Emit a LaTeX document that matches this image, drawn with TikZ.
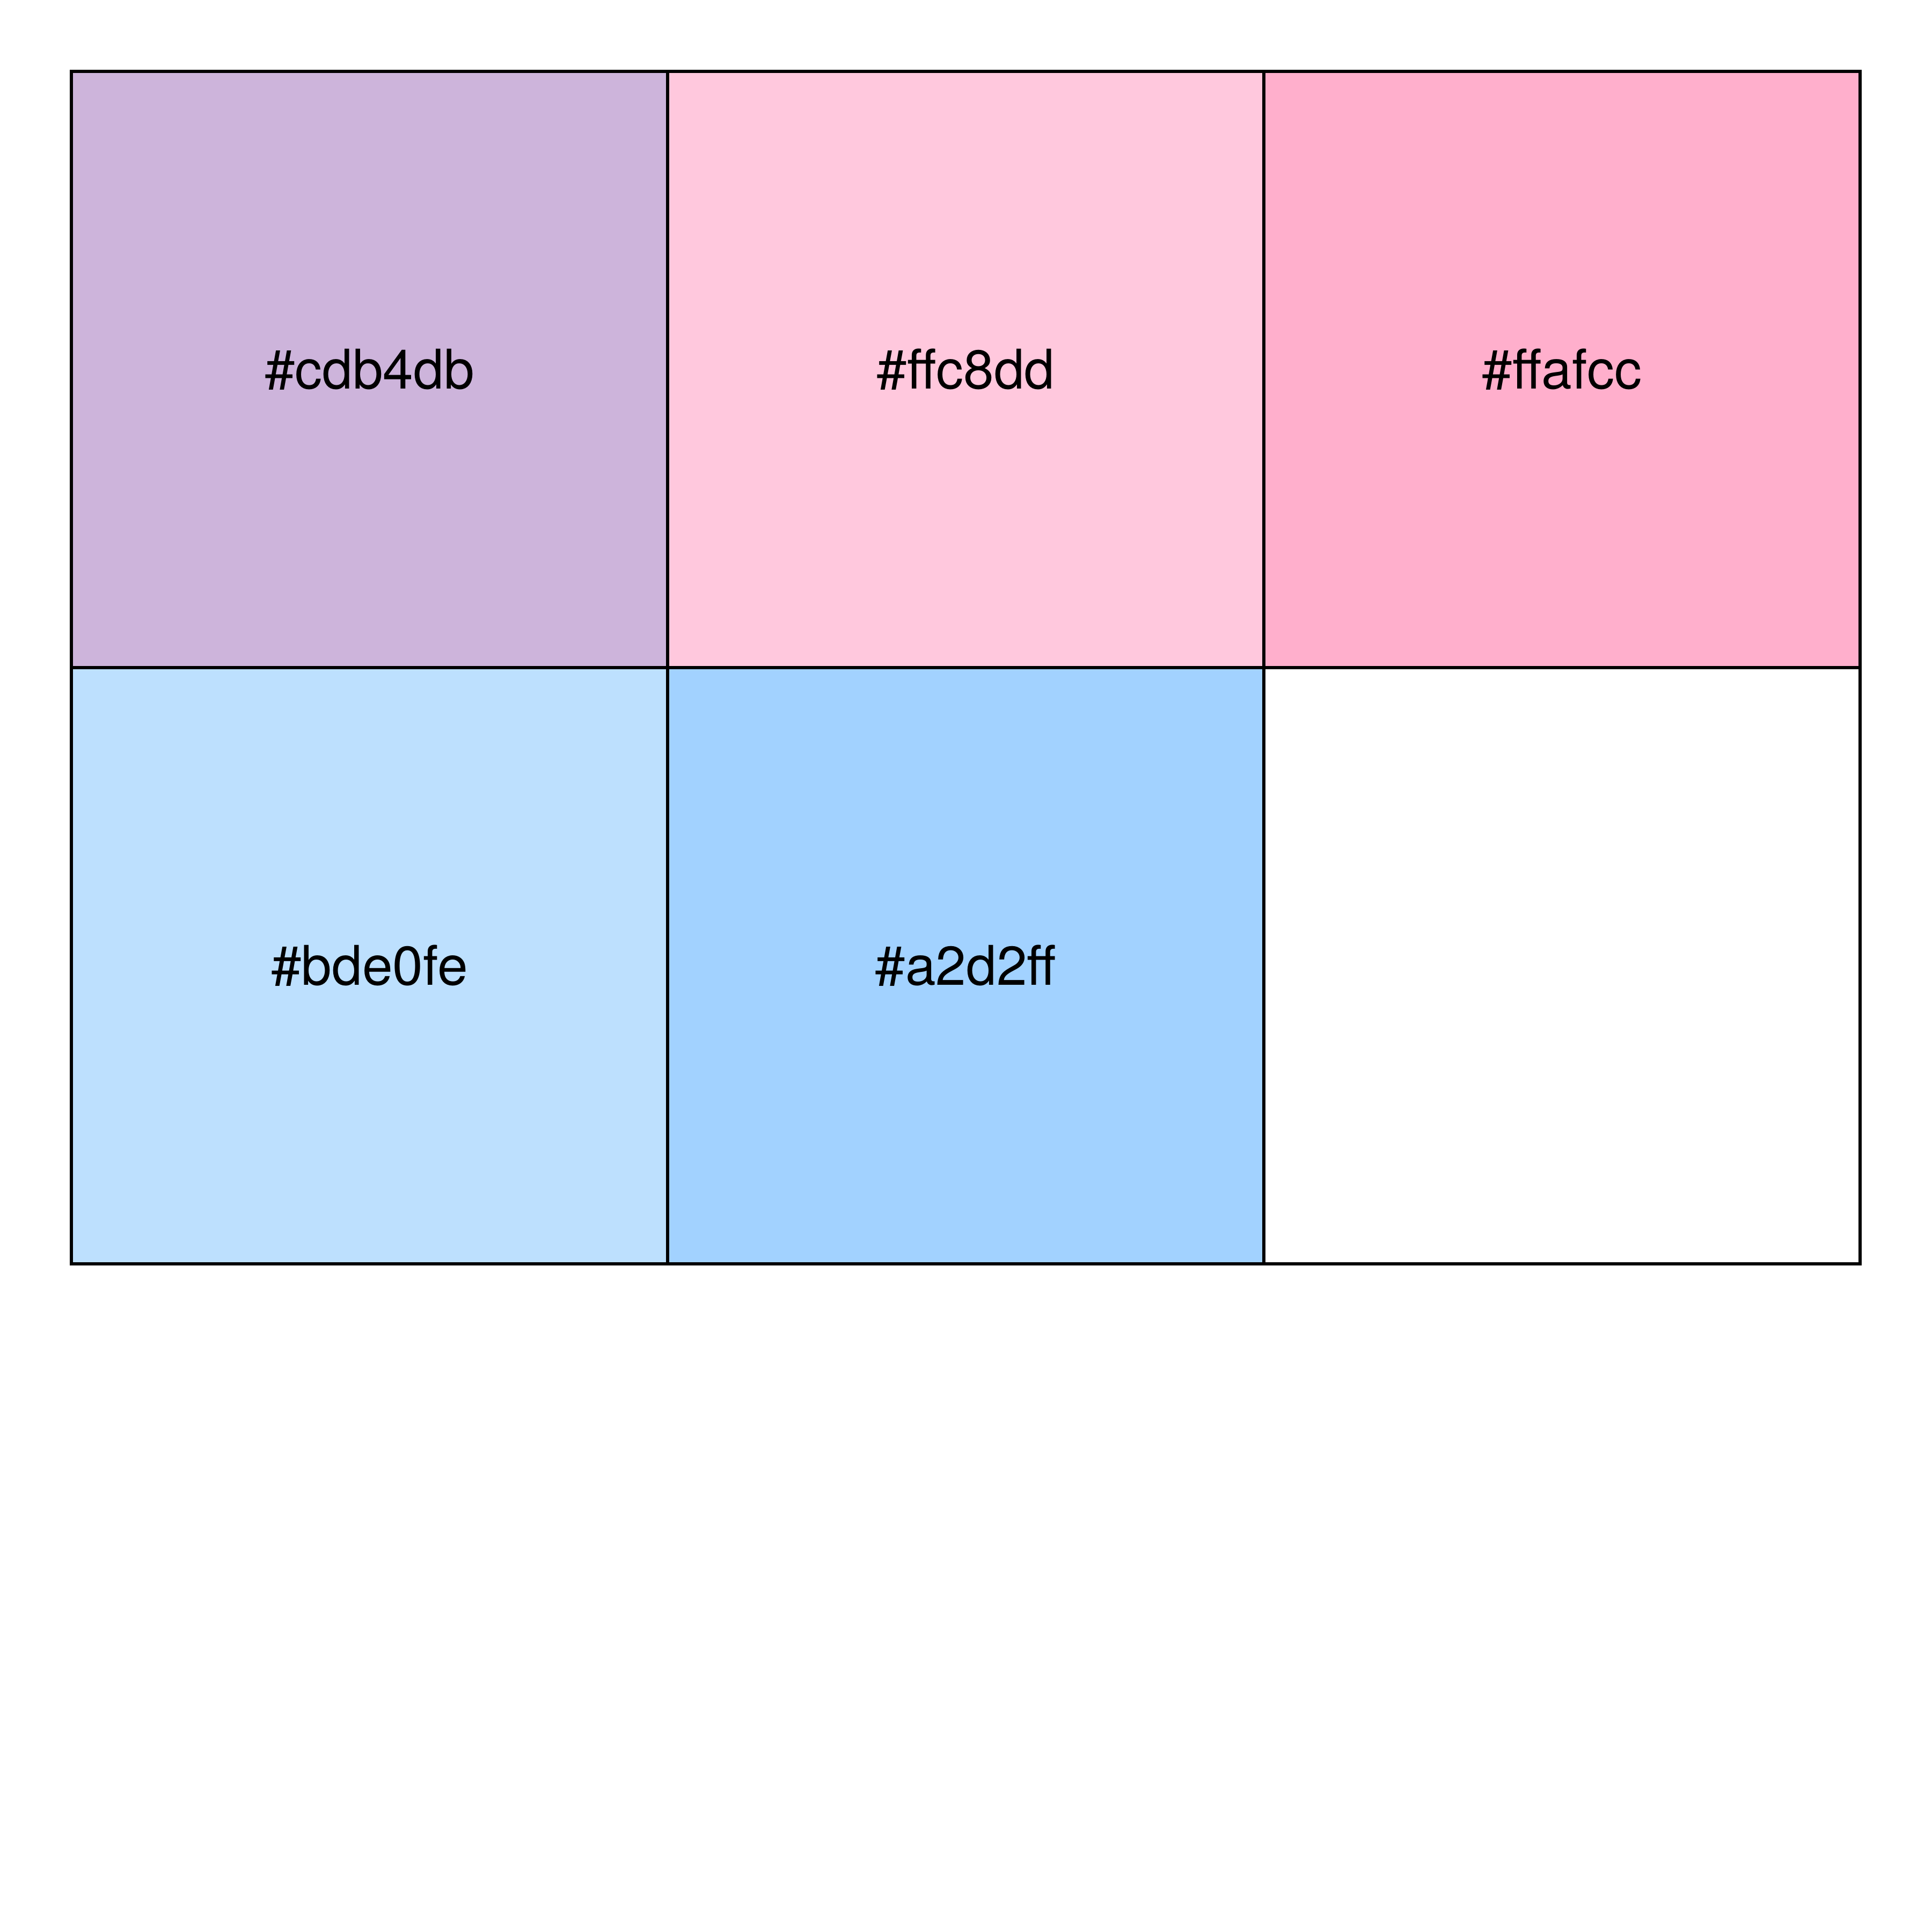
\documentclass[tikz,border=0pt]{standalone}
\usepackage{fontspec}
\setmainfont{TeX Gyre Heros}
\definecolor{cA}{HTML}{CDB4DB}
\definecolor{cB}{HTML}{FFC8DD}
\definecolor{cC}{HTML}{FFAFCC}
\definecolor{cD}{HTML}{BDE0FE}
\definecolor{cE}{HTML}{A2D2FF}
\begin{document}
\begin{tikzpicture}[
  swatch/.style={draw=black, line width=1.7pt, minimum width=11.11cm, minimum height=11.11cm,
    inner sep=0pt, outer sep=0pt, font=\fontsize{29}{35}\selectfont, text=black}
]
\fill[white] (0,0) rectangle (36,-36);
\useasboundingbox (0,0) rectangle (36,-36);
\node[swatch, fill=cA] (s1) at (6.885,-6.885) {\#cdb4db};
\node[swatch, fill=cB] (s2) at (17.995,-6.885) {\#ffc8dd};
\node[swatch, fill=cC] (s3) at (29.105,-6.885) {\#ffafcc};
\node[swatch, fill=cD] (s4) at (6.885,-17.995) {\#bde0fe};
\node[swatch, fill=cE] (s5) at (17.995,-17.995) {\#a2d2ff};
\node[swatch, fill=white] (s6) at (29.105,-17.995) {};
\end{tikzpicture}
\end{document}
